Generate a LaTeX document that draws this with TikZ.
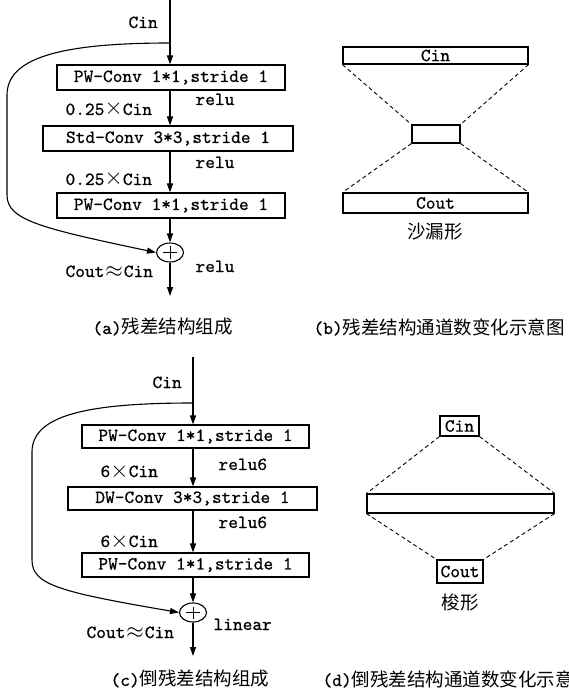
\documentclass[tikz,border=0pt]{standalone}
\usepackage{fontspec}
\setmonofont{lmmono10-regular.otf}[FakeBold=0.7]
\newfontfamily\cjk{Noto Sans CJK SC}
\usetikzlibrary{arrows.meta,shapes.geometric}
\newcommand{\tms}{\makebox[1em]{\scalebox{1.35}{$\times$}}}
\newcommand{\apx}{\makebox[1.05em]{\scalebox{1.3}{$\approx$}}}
\begin{document}
\begin{tikzpicture}[x=1pt,y=-1pt,
  line width=1.1pt,
  font=\fontsize{18.5}{20}\selectfont\ttfamily,
  arr/.style={-{Triangle[length=9pt,width=6pt]}},
  lbl/.style={inner sep=0pt, anchor=base west},
  captxt/.style={inner sep=0pt, anchor=west},
  opbox/.style={draw, inner sep=0pt, minimum height=25pt},
  chbox/.style={draw, inner sep=0pt},
  addop/.style={draw, ellipse, minimum width=27pt, minimum height=19pt, inner sep=0pt},
  dsh/.style={dash pattern=on 4pt off 3pt, line width=0.9pt},
]
\useasboundingbox (0,0) rectangle (568,692);

% ---------------- (a) ----------------
\coordinate (a0) at (170,0);
\coordinate (asplit) at (170,43);
\coordinate (aend) at (170,296);
\node[opbox, minimum width=228pt] (a1) at (171,77.5) {PW-Conv 1*1,stride 1};
\node[opbox, minimum width=250pt] (a2) at (168,138.5) {Std-Conv 3*3,stride 1};
\node[opbox, minimum width=228pt] (a3) at (171,205.5) {PW-Conv 1*1,stride 1};
\node[addop] (aplus) at (170,252.5) {};
\draw[line width=1pt] ([yshift=6pt]aplus.center) -- ([yshift=-6pt]aplus.center)
      ([xshift=-7pt]aplus.center) -- ([xshift=7pt]aplus.center);

\draw[arr] (a0) -- (a0 |- a1.north);
\draw[arr] (a0 |- a1.south) -- (a0 |- a2.north);
\draw[arr] (a0 |- a2.south) -- (a0 |- a3.north);
\draw[arr] (a0 |- a3.south) -- (aplus.north);
\draw[arr] (aplus.south) -- (aend);
\draw[arr] (asplit) .. controls (60,43) and (7,58) .. (7,95) -- (7,195)
      .. controls (7,220) and (40,228) .. (aplus.west);

\node[lbl] (acin) at (128,28) {Cin};
\node[lbl] (ar1) at (195,105) {relu};
\node[lbl] (ac1) at (65,115) {0.25\tms Cin};
\node[lbl] (ar2) at (195,168) {relu};
\node[lbl] (ac2) at (65,185) {0.25\tms Cin};
\node[lbl] (acout) at (65,277) {Cout\apx Cin};
\node[lbl] (ar3) at (195,272) {relu};
\node[captxt] (acap) at (92,327) {(a){\cjk 残差结构组成}};

% ---------------- (b) ----------------
\node[chbox, minimum width=185pt, minimum height=17pt] (bin) at (435.5,55.5) {Cin};
\node[chbox, minimum width=48pt, minimum height=18pt] (bmid) at (436,134) {};
\node[chbox, minimum width=185pt, minimum height=20pt] (bout) at (435.5,203) {Cout};
\draw[dsh] (bin.south west) -- (bmid.north west);
\draw[dsh] (bin.south east) -- (bmid.north east);
\draw[dsh] (bmid.south west) -- (bout.north west);
\draw[dsh] (bmid.south east) -- (bout.north east);
\node[inner sep=0pt] (blbl) at (435,232) {\cjk 沙漏形};
\node[captxt] (bcap) at (313,327) {(b){\cjk 残差结构通道数变化示意图}};

% ---------------- (c) ----------------
\coordinate (c0) at (193,357);
\coordinate (csplit) at (193,403);
\coordinate (cend) at (193,656);
\node[opbox, minimum width=227pt, minimum height=23pt] (c1) at (195.5,436.5) {PW-Conv 1*1,stride 1};
\node[opbox, minimum width=249pt, minimum height=23pt] (c2) at (192.5,498.5) {DW-Conv 3*3,stride 1};
\node[opbox, minimum width=227pt, minimum height=24pt] (c3) at (195.5,565) {PW-Conv 1*1,stride 1};
\node[addop] (cplus) at (193,612.5) {};
\draw[line width=1pt] ([yshift=6pt]cplus.center) -- ([yshift=-6pt]cplus.center)
      ([xshift=-7pt]cplus.center) -- ([xshift=7pt]cplus.center);

\draw[arr] (c0) -- (c0 |- c1.north);
\draw[arr] (c0 |- c1.south) -- (c0 |- c2.north);
\draw[arr] (c0 |- c2.south) -- (c0 |- c3.north);
\draw[arr] (c0 |- c3.south) -- (cplus.north);
\draw[arr] (cplus.south) -- (cend);
\draw[arr] (csplit) .. controls (88,403) and (32,415) .. (32,452) -- (32,560)
      .. controls (32,585) and (60,592) .. (cplus.west);

\node[lbl] (ccin) at (152,388) {Cin};
\node[lbl] (cr1) at (218,470) {relu6};
\node[lbl] (cc1) at (100,477) {6\tms Cin};
\node[lbl] (cr2) at (218,528) {relu6};
\node[lbl] (cc2) at (100,547) {6\tms Cin};
\node[lbl] (ccout) at (86,638) {Cout\apx Cin};
\node[lbl] (clin) at (213,630) {linear};
\node[captxt] (ccap) at (110,679) {(c){\cjk 倒残差结构组成}};

% ---------------- (d) ----------------
\node[chbox, minimum width=39pt, minimum height=20pt] (din) at (459.5,426) {Cin};
\node[chbox, minimum width=187pt, minimum height=19pt] (dmid) at (460.5,503.5) {};
\node[chbox, minimum width=46pt, minimum height=23pt] (dout) at (460,571.5) {Cout};
\draw[dsh] (din.south west) -- (dmid.north west);
\draw[dsh] (din.south east) -- (dmid.north east);
\draw[dsh] (dmid.south west) -- (dout.north west);
\draw[dsh] (dmid.south east) -- (dout.north east);
\node[inner sep=0pt] (dlbl) at (460,602) {\cjk 梭形};
\node[captxt] (dcap) at (322,679) {(d){\cjk 倒残差结构通道数变化示意图}};
\end{tikzpicture}
\end{document}
